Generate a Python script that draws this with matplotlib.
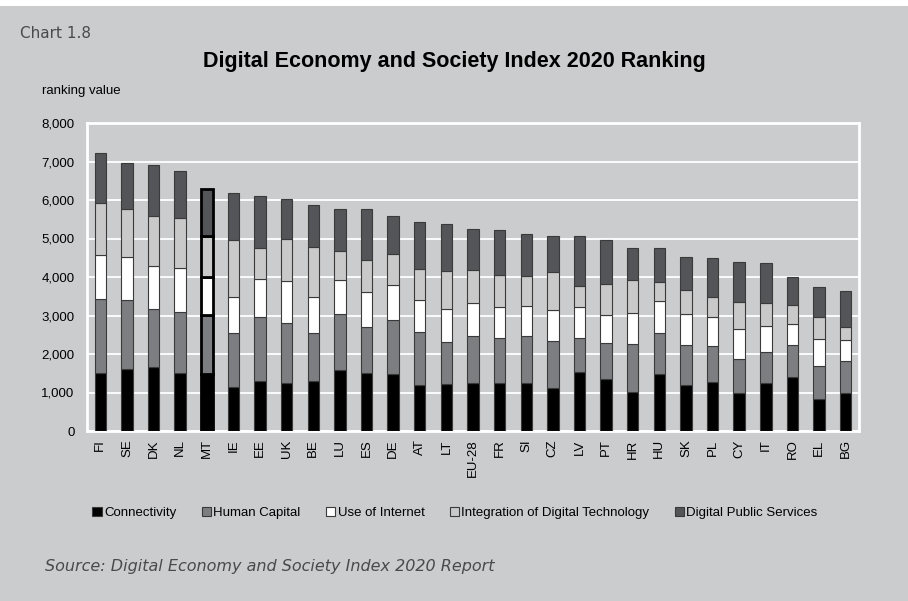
import matplotlib
matplotlib.use("Agg")
import matplotlib.pyplot as plt
import numpy as np
from matplotlib.patches import Rectangle

countries = ["FI", "SE", "DK", "NL", "MT", "IE", "EE", "UK", "BE", "LU", "ES", "DE", "AT", "LT",
             "EU-28", "FR", "SI", "CZ", "LV", "PT", "HR", "HU", "SK", "PL", "CY", "IT", "RO", "EL", "BG"]

connectivity = [1498, 1610, 1654, 1515, 1472, 1143, 1307, 1238, 1307, 1584, 1515, 1489, 1186, 1229,
                1255, 1255, 1255, 1117, 1541, 1351, 1013, 1481, 1186, 1273, 978, 1255, 1403, 840, 978]
human_capital = [1923, 1793, 1506, 1585, 1541, 1394, 1654, 1559, 1230, 1446, 1178, 1394, 1394, 1074,
                 1212, 1161, 1212, 1212, 883, 935, 1247, 1056, 1048, 926, 884, 797, 831, 848, 840]
use_of_internet = [1142, 1125, 1134, 1125, 978, 935, 978, 1090, 935, 892, 917, 917, 823, 857,
                   866, 805, 771, 814, 788, 727, 813, 831, 796, 754, 787, 675, 537, 702, 537]
integration_tech = [1351, 1247, 1282, 1307, 1083, 1481, 823, 1091, 1307, 753, 823, 789, 796, 987,
                    840, 840, 797, 978, 563, 814, 841, 502, 624, 519, 702, 606, 493, 563, 338]
public_services = [1315, 1195, 1324, 1230, 1203, 1220, 1342, 1057, 1082, 1100, 1325, 995, 1221, 1230,
                   1082, 1151, 1073, 944, 1290, 1126, 831, 875, 857, 1013, 1039, 1039, 727, 779, 943]

series_names = ["Connectivity", "Human Capital", "Use of Internet",
                "Integration of Digital Technology", "Digital Public Services"]
series_colors = ["#000000", "#7d7e82", "#ffffff", "#c9c9c9", "#535558"]
highlight = "MT"

y_ticks = [0, 1000, 2000, 3000, 4000, 5000, 6000, 7000, 8000]

BG = "#cbcccd"
plt.rcParams["font.family"] = ["Liberation Sans", "DejaVu Sans"]

fig = plt.figure(figsize=(9.08, 6.01), dpi=100, facecolor=BG)
fig.patches.append(Rectangle((0, 1 - 6 / 601), 1, 6 / 601, transform=fig.transFigure,
                             facecolor="white", edgecolor="none", zorder=0))

ax = fig.add_axes([87 / 908, 1 - 431 / 601, (859 - 87) / 908, (431 - 123) / 601])
ax.set_facecolor(BG)

x = np.arange(len(countries))
data = [connectivity, human_capital, use_of_internet, integration_tech, public_services]
bottom = np.zeros(len(countries))
handles = []
for vals, name, col in zip(data, series_names, series_colors):
    vals = np.array(vals, dtype=float)
    ec = ["#000000" if c == highlight else "#3a3a3a" for c in countries]
    lw = [2.0 if c == highlight else 0.8 for c in countries]
    bars = ax.bar(x, vals, bottom=bottom, width=0.43, color=col, edgecolor=ec,
                  linewidth=lw, zorder=3, label=name)
    handles.append(bars)
    bottom += vals

ax.set_xlim(-0.5, len(countries) - 0.5)
ax.set_ylim(0, 8000)
ax.set_yticks(y_ticks)
ax.set_yticklabels([f"{v:,}" for v in y_ticks], fontsize=9.5)
ax.set_xticks(x)
ax.set_xticklabels(countries, rotation=90, fontsize=9.5)
ax.tick_params(axis="y", length=0, pad=9)
ax.tick_params(axis="x", length=0, pad=6)
ax.yaxis.grid(True, color="white", linewidth=1.3, zorder=0)
ax.set_axisbelow(True)
for sp in ax.spines.values():
    sp.set_color("white")
    sp.set_linewidth(2)

fig.text(20 / 908, 1 - 33 / 601, "Chart 1.8", fontsize=11, color="#4a4a4a",
         family=["DejaVu Sans"], va="center", ha="left")
fig.text(454 / 908, 1 - 61 / 601, "Digital Economy and Society Index 2020 Ranking",
         fontsize=15.5, fontweight="bold", ha="center", va="center", color="black")
fig.text(42 / 908, 1 - 91 / 601, "ranking value", fontsize=9.5, ha="left", va="center")
fig.text(45 / 908, 1 - 566 / 601, "Source: Digital Economy and Society Index 2020 Report",
         fontsize=11.5, style="italic", color="#4a4a4a", family=["DejaVu Sans"],
         ha="left", va="center")

leg = fig.legend(handles=handles, labels=series_names, loc="center",
                 bbox_to_anchor=(455 / 908, 1 - 513 / 601), ncol=5, frameon=False,
                 fontsize=9.5, handlelength=0.7, handleheight=0.7, handletextpad=0.2,
                 columnspacing=1.9)
for h in leg.legend_handles:
    h.set_edgecolor("#3a3a3a")
    h.set_linewidth(0.8)

fig.savefig("out.png", dpi=100, facecolor=BG)
